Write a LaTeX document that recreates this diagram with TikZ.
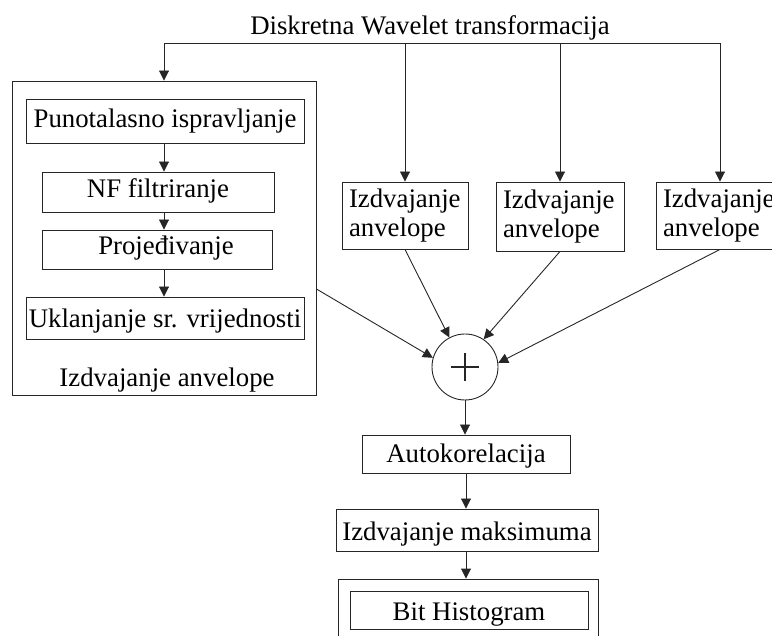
\documentclass[tikz,border=0pt]{standalone}
\usepackage{fontspec}
\setmainfont{Liberation Serif}
\usetikzlibrary{arrows.meta}

\tikzset{
  ln/.style={draw=black!85, line width=0.9pt},
  arr/.style={ln, -{Triangle[length=10pt,width=10pt]}},
  box/.style={ln, rectangle, inner sep=0pt, text height=20pt, text depth=0pt},
  twoline/.style={ln, rectangle, inner ysep=0pt, inner xsep=7pt, align=left},
  lbl/.style={inner sep=0pt, anchor=base}
}

\begin{document}
\begin{tikzpicture}[x=1pt, y=-1pt, font=\fontsize{26.8}{29}\selectfont]
\useasboundingbox (0,0) rectangle (772,636);
\clip (0,0) rectangle (772,636);

% title and distribution bus
\node[lbl] (title) at (430,35) {Diskretna Wavelet transformacija};
\coordinate (b0) at (164,43);
\coordinate (b1) at (405,43);
\coordinate (b2) at (560,43);
\coordinate (b3) at (720,43);
\draw[ln] (b0) -- (b3);

% envelope extraction block (detailed)
\node[ln, rectangle, minimum width=304pt, minimum height=314pt, inner sep=0pt] (big) at (164,238) {};
\node[box, minimum width=278pt, minimum height=44pt, text height=18pt, text depth=4pt] (p1) at (165,121) {Punotalasno ispravljanje};
\node[box, minimum width=232pt, minimum height=40pt, text height=18pt, text depth=6pt] (p2) at (158,192) {NF filtriranje};
\node[box, minimum width=230pt, minimum height=39pt, text height=17pt, text depth=6pt] (p3) at (157,249.5) {\hspace*{18pt}Projeđivanje};
\node[box, minimum width=278pt, minimum height=42pt] (p4) at (165,318) {Uklanjanje sr. vrijednosti};
\node[lbl] (bigLabel) at (167,387) {Izdvajanje anvelope};

\draw[arr] (b0) -- (big.north);
\draw[arr] (p1.south -| big.north) -- (p2.north -| big.north);
\draw[arr] (p2.south -| big.north) -- (p3.north -| big.north);
\draw[arr] (p3.south -| big.north) -- (p4.north -| big.north);

% envelope extraction, compact blocks
\node[twoline, minimum width=126pt, minimum height=67pt, text width=112pt] (e1) at (405,215.5) {Izdvajanje\\anvelope};
\node[twoline, minimum width=128pt, minimum height=69pt, text width=114pt] (e2) at (560,216.5) {Izdvajanje\\anvelope};
\node[twoline, minimum width=128pt, minimum height=67pt, text width=114pt] (e3) at (720,215.5) {Izdvajanje\\anvelope};

\draw[arr] (b1) -- (e1.north);
\draw[arr] (b2) -- (e2.north);
\draw[arr] (b3) -- (e3.north);

% summation
\node[ln, circle, minimum size=66pt, inner sep=0pt] (sum) at (465,367) {};
\draw[ln, line width=1.4pt] ([xshift=-14pt]sum.center) -- ([xshift=14pt]sum.center);
\draw[ln, line width=1.4pt] ([yshift=14pt]sum.center) -- ([yshift=-14pt]sum.center);

\draw[arr] ([yshift=-51pt]big.east) -- (sum.164);
\draw[arr] (e1.south) -- (sum.118);
\draw[arr] (e2.south) -- (sum.56);
\draw[arr] (e3.south) -- (sum.7);

% output chain
\node[box, minimum width=208pt, minimum height=38pt, text height=19pt, text depth=1pt] (auto) at (466,454) {Autokorelacija};
\node[box, minimum width=262pt, minimum height=42pt] (maks) at (467,530) {Izdvajanje maksimuma};
\node[ln, rectangle, minimum width=260pt, minimum height=80pt, inner sep=0pt] (hist) at (468,619) {};
\node[box, minimum width=238pt, minimum height=38pt] (bith) at (469,610) {Bit Histogram};

\draw[arr] (sum.south) -- (auto.north -| sum.south);
\draw[arr] (auto.south) -- (maks.north -| auto.south);
\draw[arr] (maks.south -| auto.south) -- (hist.north -| auto.south);
\end{tikzpicture}
\end{document}
